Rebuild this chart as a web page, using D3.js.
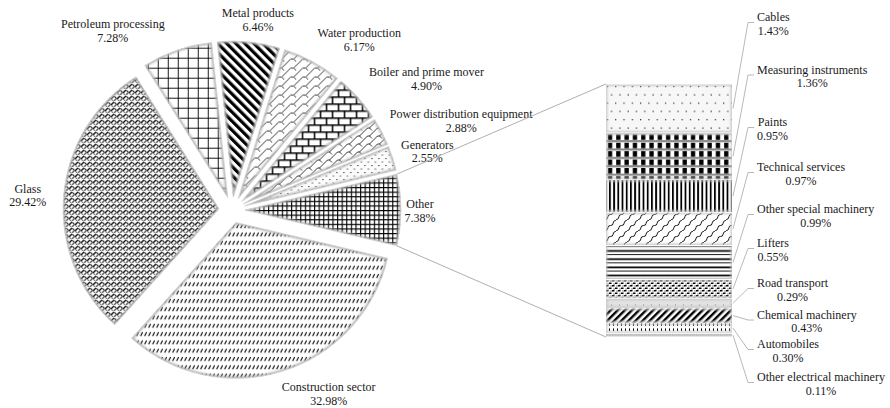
<!DOCTYPE html>
<html>
<head>
<meta charset="utf-8">
<script src="https://cdn.jsdelivr.net/npm/d3@7"></script>
<style>
  html, body { margin: 0; padding: 0; background: #fff; }
  svg { display: block; }
  text { font-family: "Liberation Serif", "Times New Roman", serif; font-size: 12px; fill: #1a1a1a; }
</style>
</head>
<body>
<svg id="chart" width="890" height="408"></svg>
<script>
// Share of total by sector (%). "Other" is broken down in the bar on the right.
const pieCategories = ["Other", "Construction sector", "Glass", "Petroleum processing", "Metal products",
  "Water production", "Boiler and prime mover", "Power distribution equipment", "Generators"];
const pieValues = [7.38, 32.98, 29.42, 7.28, 6.46, 6.17, 4.90, 2.88, 2.55];

// Breakdown of "Other", top to bottom (%)
const barCategories = ["Cables", "Measuring instruments", "Paints", "Technical services",
  "Other special machinery", "Lifters", "Road transport", "Chemical machinery", "Automobiles",
  "Other electrical machinery"];
const barValues = [1.43, 1.36, 0.95, 0.97, 0.99, 0.55, 0.29, 0.43, 0.30, 0.11];

// ---- layout ----
const cx = 232, cy = 210, R = 156, explode = 13;
const bar = { x0: 606, x1: 732, y0: 84, y1: 337 };
const lineH = 13.7;
const labelRadius = 200;
const pieLabelNudge = {
  "Other": [-12, -2], "Construction sector": [37, -10], "Glass": [-5, 0],
  "Petroleum processing": [-54, 7], "Metal products": [6, 6], "Water production": [32, 3],
  "Boiler and prime mover": [45, -1], "Power distribution equipment": [52, 1], "Generators": [5, 0]
};
const barLabelLeft = 757;
const barLabelBaselines = [21, 73.5, 126, 171, 213, 247, 287, 318.5, 348, 381];

const pieFill = {
  "Other": "p-sgrid", "Construction sector": "p-dash", "Glass": "p-weave",
  "Petroleum processing": "p-grid", "Metal products": "p-wdown", "Water production": "p-dbrick",
  "Boiler and prime mover": "p-hbrick", "Power distribution equipment": "p-dbrick2", "Generators": "p-gen"
};
const barFill = ["p-dots", "p-check", "p-vline", "p-chain", "p-hlines", "p-confetti",
  "p-road", "p-wup", "p-vdash", "p-dotline"];

const fmt = v => v.toFixed(2) + "%";

const svg = d3.select("#chart");
const defs = svg.append("defs");

// soft edge used for the slight shading along every shape border
defs.append("filter").attr("id", "soft").attr("x", "-10%").attr("y", "-10%")
  .attr("width", "120%").attr("height", "120%")
  .append("feGaussianBlur").attr("stdDeviation", 1.3);

function pat(id, w, h, opts = {}) {
  const p = defs.append("pattern").attr("id", id)
    .attr("patternUnits", "userSpaceOnUse").attr("width", w).attr("height", h);
  if (opts.rotate) p.attr("patternTransform", `rotate(${opts.rotate})`);
  p.append("rect").attr("width", w).attr("height", h).attr("fill", opts.bg || "#fff");
  return p;
}
function line(p, d, sw, col) {
  p.append("path").attr("d", d).attr("fill", "none").attr("stroke", col || "#000").attr("stroke-width", sw);
}
function box(p, x, y, w, h, col) {
  p.append("rect").attr("x", x).attr("y", y).attr("width", w).attr("height", h).attr("fill", col || "#000");
}

// pie fills
line(pat("p-grid", 10, 10), "M0,0.5H10M0.5,0V10", 0.9);
box(pat("p-wdown", 6.4, 6.4, { rotate: -45 }), 0, 0, 3.2, 6.4);
{
  const p = pat("p-dbrick", 12, 9);
  line(p, "M0,9 L4.5,4.5 L7.5,4.5 L12,0", 0.9, "#222");
  line(p, "M7.5,4.5 L10,7", 0.9, "#222");
}
{
  const p = pat("p-dbrick2", 10, 8);
  line(p, "M0,8 L4,4 L6,4 L10,0", 0.9, "#222");
  line(p, "M6,4 L8.5,6.5", 0.9, "#222");
}
line(pat("p-hbrick", 12, 14), "M0,0.75H12M0,7.75H12M0.75,0.75V7.75M6.75,7.75V14.75", 1.5);
{
  const p = pat("p-gen", 7, 7, { bg: "#fcfcfc" });
  box(p, 1, 1, 1.1, 1.1, "#222");
  box(p, 4.5, 4.5, 1.1, 1.1, "#333");
}
line(pat("p-sgrid", 4.6, 4.6), "M0,0.6H4.6M0.6,0V4.6", 1.1);
line(pat("p-dash", 4, 8.3), "M0.7,5.8 L2.7,1.8", 1.1);
{
  const p = pat("p-weave", 6, 6);
  line(p, "M0,4 L3,1", 1.5, "#111");
  line(p, "M3,6 L6,3", 1.5, "#5a5a5a");
  line(p, "M3.3,1.3 L5,3", 1.2, "#333");
  line(p, "M0.3,4.3 L2,6", 1.2, "#707070");
}

// bar fills
{
  const p = pat("p-dots", 8.3, 16.6, { bg: "#f7f7f7" });
  box(p, 1, 3, 1.1, 1.1);
  box(p, 5.15, 11.3, 1.1, 1.1);
}
{
  const p = pat("p-check", 8.3, 8.4);
  box(p, 2, 0, 4.3, 5.4);
  box(p, 0, 5.7, 8.3, 2.1, "#858585");
}
box(pat("p-vline", 4.2, 10), 0, 0, 1.8, 10);
{
  const p = pat("p-chain", 11, 11);
  line(p, "M0,11 Q3,10 3,7.5 Q3,5.5 5.5,5.5 Q8,5.5 8,3.5 Q8,1 11,0", 1, "#111");
}
{
  const p = pat("p-hlines", 10, 8.2);
  box(p, 0, 0, 10, 0.9);
  box(p, 0, 4.1, 10, 1.7);
}
{
  const p = pat("p-confetti", 6, 5);
  box(p, 0, 0, 2.5, 1.5);
  box(p, 3, 2.5, 2.5, 1.5);
  box(p, 1.5, 3.5, 1, 1);
  box(p, 4.5, 0.5, 1, 1);
}
box(pat("p-road", 8, 10, { bg: "#e2e2e2" }), 3, 4.5, 1, 1, "#888");
box(pat("p-wup", 5, 5, { rotate: 45 }), 0, 0, 2.4, 5);
box(pat("p-vdash", 4, 5.2), 1, 0.8, 1, 2.6);
box(pat("p-dotline", 3, 3.7), 0, 1.2, 1.5, 1);

// ---- pie ----
const total = d3.sum(pieValues);
const otherSpan = pieValues[0] / total * 2 * Math.PI;
const a0 = Math.PI / 2 - otherSpan / 2;
const pie = d3.pie().sort(null).value(d => d.value).startAngle(a0).endAngle(a0 + 2 * Math.PI);
const arcs = pie(pieCategories.map((c, i) => ({ cat: c, value: pieValues[i] })));
const arc = d3.arc().innerRadius(0).outerRadius(R);
const labelArc = d3.arc().innerRadius(labelRadius).outerRadius(labelRadius);

const mid = d => (d.startAngle + d.endAngle) / 2;
const offset = d => [explode * Math.sin(mid(d)), -explode * Math.cos(mid(d))];

const pieG = svg.append("g").attr("transform", `translate(${cx},${cy})`);
arcs.forEach((d, i) => {
  const [ox, oy] = offset(d);
  const g = pieG.append("g").attr("transform", `translate(${ox},${oy})`);
  const id = "clip-slice-" + i;
  defs.append("clipPath").attr("id", id).append("path").attr("d", arc(d));
  g.append("path").attr("d", arc(d)).attr("fill", `url(#${pieFill[d.data.cat]})`);
  g.append("path").attr("d", arc(d)).attr("fill", "none").attr("stroke", "#b4b4b4")
    .attr("stroke-width", 3.5).attr("filter", "url(#soft)").attr("clip-path", `url(#${id})`);
  g.append("path").attr("d", arc(d)).attr("fill", "none").attr("stroke", "#d6d6d6").attr("stroke-width", 0.8);
});

// pie labels
arcs.forEach(d => {
  const [lx, ly] = labelArc.centroid(d);
  const [nx, ny] = pieLabelNudge[d.data.cat];
  const t = pieG.append("text").attr("text-anchor", "middle")
    .attr("transform", `translate(${lx + nx},${ly + ny})`);
  t.append("tspan").attr("x", 0).attr("y", 0).text(d.data.cat);
  t.append("tspan").attr("x", 0).attr("y", lineH).text(fmt(d.data.value));
});

// ---- bar of "Other" ----
const barTotal = d3.sum(barValues);
const y = d3.scaleLinear().domain([0, barTotal]).range([bar.y0, bar.y1]);
const cum = d3.cumsum(barValues);
const segs = barValues.map((v, i) => ({ cat: barCategories[i], value: v, s: cum[i] - v, e: cum[i] }));

const barG = svg.append("g");
segs.forEach((s, i) => {
  const yt = y(s.s) + 0.5, yb = y(s.e) - 0.5;
  const id = "clip-seg-" + i;
  defs.append("clipPath").attr("id", id).append("rect")
    .attr("x", bar.x0).attr("y", yt).attr("width", bar.x1 - bar.x0).attr("height", Math.max(0.5, yb - yt));
  barG.append("rect").attr("x", bar.x0).attr("y", yt).attr("width", bar.x1 - bar.x0)
    .attr("height", Math.max(0.5, yb - yt)).attr("fill", `url(#${barFill[i]})`);
  barG.append("rect").attr("x", bar.x0).attr("y", yt).attr("width", bar.x1 - bar.x0)
    .attr("height", Math.max(0.5, yb - yt)).attr("fill", "none").attr("stroke", "#c4c4c4")
    .attr("stroke-width", 2.5).attr("filter", "url(#soft)").attr("clip-path", `url(#${id})`);
});

// connector lines from the "Other" slice to the bar
const otherArc = arcs[0];
const [oox, ooy] = offset(otherArc);
const corner = a => [cx + oox + R * Math.sin(a), cy + ooy - R * Math.cos(a)];
const cTop = corner(otherArc.startAngle), cBot = corner(otherArc.endAngle);
const link = d3.line();
svg.append("path").attr("d", link([cTop, [bar.x0, bar.y0]]))
  .attr("fill", "none").attr("stroke", "#a6a6a6").attr("stroke-width", 0.9);
svg.append("path").attr("d", link([cBot, [bar.x0, bar.y1]]))
  .attr("fill", "none").attr("stroke", "#a6a6a6").attr("stroke-width", 0.9);

// bar labels with leader lines
const labG = svg.append("g");
segs.forEach((s, i) => {
  const b = barLabelBaselines[i];
  const t = labG.append("text").attr("text-anchor", "middle");
  const t1 = t.append("tspan").attr("y", b).text(s.cat);
  const t2 = t.append("tspan").attr("y", b + lineH).text(fmt(s.value));
  const w = Math.max(t1.node().getComputedTextLength(), t2.node().getComputedTextLength());
  const xc = barLabelLeft + w / 2;
  t1.attr("x", xc); t2.attr("x", xc);
  const ym = (y(s.s) + y(s.e)) / 2;
  const pts = [[bar.x1 + 1, ym], [barLabelLeft - 9, b + 1.5], [barLabelLeft - 3, b + 1.5]];
  labG.append("path").attr("d", link(pts)).attr("fill", "none")
    .attr("stroke", "#a6a6a6").attr("stroke-width", 0.8);
});
</script>
</body>
</html>
